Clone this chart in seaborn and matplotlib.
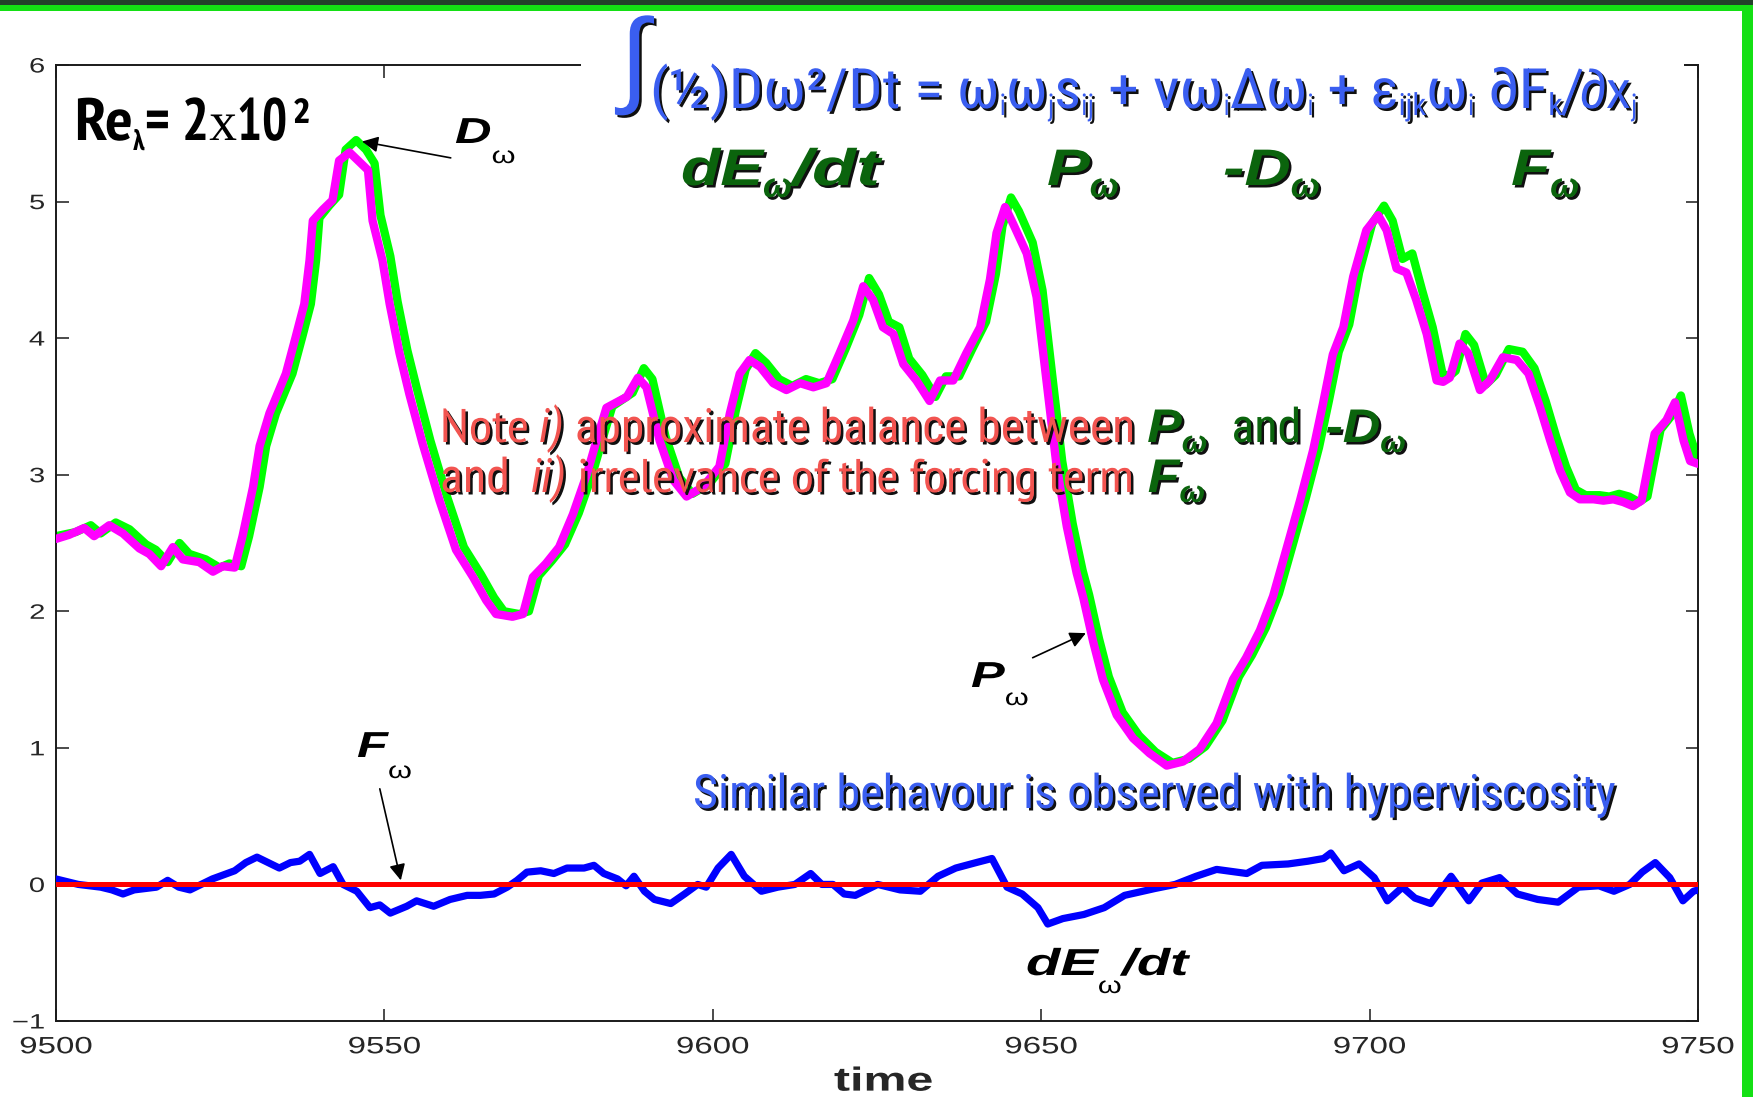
import matplotlib
matplotlib.use("Agg")
import matplotlib.pyplot as plt
import matplotlib.patheffects as pe
from matplotlib import font_manager
from matplotlib.colors import to_rgba
from matplotlib.font_manager import FontProperties
from matplotlib.text import Annotation
from matplotlib.patches import Rectangle
from matplotlib.transforms import Affine2D, Bbox
import seaborn as sns

# ---------------------------------------------------------------- data
# enstrophy production P_omega
prod_t = [9500.0, 9502.0, 9504.3, 9505.8, 9508.1, 9510.2, 9512.7, 9514.2, 9516.0, 9517.8,
          9519.3, 9521.8, 9523.9, 9525.4, 9527.2, 9528.4, 9530.0, 9531.0, 9532.5, 9535.0,
          9536.5, 9537.8, 9538.6, 9539.1, 9540.6, 9542.1, 9543.1, 9544.7, 9546.2, 9547.5,
          9548.2, 9549.7, 9550.8, 9552.3, 9553.8, 9555.8, 9558.4, 9560.9, 9563.5, 9565.5,
          9567.0, 9569.5, 9571.1, 9572.6, 9574.6, 9576.6, 9578.7, 9580.8, 9582.3, 9583.8,
          9586.9, 9588.6, 9589.9, 9591.9, 9594.0, 9596.0, 9598.5, 9601.0, 9602.6, 9604.1,
          9605.6, 9607.2, 9609.2, 9611.2, 9613.3, 9615.3, 9617.3, 9619.3, 9621.4, 9622.9,
          9624.4, 9625.9, 9627.5, 9629.0, 9631.0, 9633.0, 9634.6, 9636.6, 9638.6, 9640.7,
          9642.2, 9643.2, 9644.5, 9645.7, 9647.8, 9649.3, 9650.8, 9652.3, 9653.9, 9655.4,
          9656.4, 9657.9, 9659.4, 9661.5, 9664.0, 9666.5, 9669.1, 9671.6, 9674.1, 9676.7,
          9679.2, 9681.2, 9683.3, 9685.3, 9687.3, 9689.4, 9691.4, 9692.9, 9694.4, 9696.0,
          9697.5, 9699.5, 9701.3, 9702.6, 9704.1, 9705.6, 9707.1, 9708.7, 9710.2, 9711.2,
          9712.2, 9713.7, 9715.0, 9716.8, 9718.3, 9720.3, 9722.4, 9724.2, 9725.9, 9727.5,
          9729.0, 9730.5, 9732.0, 9734.1, 9735.6, 9737.1, 9738.6, 9740.1, 9741.4, 9742.4,
          9743.4, 9745.2, 9746.5, 9747.8, 9748.8, 9750.0]
prod_v = [2.53, 2.56, 2.61, 2.55, 2.63, 2.57, 2.46, 2.42, 2.33, 2.47,
          2.38, 2.36, 2.29, 2.33, 2.32, 2.55, 2.91, 3.21, 3.45, 3.74,
          4.01, 4.25, 4.57, 4.86, 4.94, 5.01, 5.30, 5.36, 5.29, 5.23,
          4.86, 4.57, 4.25, 3.89, 3.59, 3.23, 2.81, 2.45, 2.25, 2.08,
          1.98, 1.96, 1.98, 2.25, 2.35, 2.47, 2.71, 3.00, 3.25, 3.49,
          3.57, 3.71, 3.64, 3.25, 2.96, 2.84, 2.91, 3.06, 3.45, 3.74,
          3.84, 3.79, 3.67, 3.62, 3.67, 3.64, 3.67, 3.89, 4.13, 4.38,
          4.28, 4.08, 4.03, 3.81, 3.69, 3.54, 3.69, 3.69, 3.89, 4.08,
          4.43, 4.77, 4.96, 4.84, 4.62, 4.30, 3.69, 3.08, 2.62, 2.28,
          2.10, 1.78, 1.50, 1.24, 1.07, 0.96, 0.87, 0.90, 0.99, 1.18,
          1.50, 1.66, 1.86, 2.11, 2.45, 2.81, 3.18, 3.52, 3.88, 4.08,
          4.45, 4.79, 4.90, 4.79, 4.51, 4.48, 4.28, 4.03, 3.69, 3.68,
          3.71, 3.96, 3.89, 3.62, 3.69, 3.86, 3.84, 3.74, 3.50, 3.25,
          3.03, 2.87, 2.82, 2.82, 2.81, 2.82, 2.80, 2.77, 2.81, 3.06,
          3.30, 3.40, 3.53, 3.25, 3.10, 3.08]

# enstrophy dissipation D_omega
diss_t = [9500.0, 9503.0, 9505.3, 9506.8, 9509.1, 9511.2, 9513.7, 9515.2, 9517.0, 9518.8,
          9520.3, 9522.8, 9524.9, 9526.4, 9528.2, 9529.4, 9531.0, 9532.0, 9533.5, 9536.0,
          9537.5, 9538.8, 9539.6, 9540.1, 9541.6, 9543.1, 9544.1, 9545.7, 9547.2, 9548.5,
          9549.4, 9550.9, 9552.0, 9553.5, 9555.0, 9557.0, 9559.6, 9562.1, 9564.7, 9566.7,
          9568.2, 9570.5, 9572.0, 9573.5, 9575.5, 9577.5, 9579.6, 9581.7, 9583.2, 9584.7,
          9587.8, 9589.5, 9590.8, 9592.8, 9594.9, 9596.9, 9599.4, 9601.9, 9603.5, 9605.0,
          9606.5, 9608.1, 9610.1, 9612.1, 9614.2, 9616.2, 9618.2, 9620.2, 9622.3, 9623.8,
          9625.3, 9626.8, 9628.4, 9629.9, 9631.9, 9633.9, 9635.5, 9637.5, 9639.5, 9641.6,
          9643.1, 9644.1, 9645.4, 9646.6, 9648.7, 9650.2, 9651.7, 9653.2, 9654.8, 9656.3,
          9657.3, 9658.8, 9660.3, 9662.4, 9664.9, 9667.4, 9670.0, 9672.5, 9675.0, 9677.6,
          9680.1, 9682.1, 9684.2, 9686.2, 9688.2, 9690.3, 9692.3, 9693.8, 9695.3, 9696.9,
          9698.4, 9700.4, 9702.2, 9703.5, 9705.0, 9706.5, 9708.0, 9709.6, 9711.1, 9712.1,
          9713.1, 9714.6, 9715.9, 9717.7, 9719.2, 9721.2, 9723.3, 9725.1, 9726.8, 9728.4,
          9729.9, 9731.4, 9732.9, 9735.0, 9736.5, 9738.0, 9739.5, 9741.0, 9742.3, 9743.3,
          9744.3, 9746.1, 9747.4, 9748.7, 9749.7, 9750.0]
diss_v = [2.55, 2.58, 2.63, 2.57, 2.65, 2.60, 2.49, 2.45, 2.36, 2.50,
          2.42, 2.38, 2.32, 2.35, 2.33, 2.55, 2.91, 3.21, 3.45, 3.74,
          4.01, 4.25, 4.57, 4.88, 4.97, 5.05, 5.38, 5.45, 5.38, 5.28,
          4.90, 4.60, 4.27, 3.91, 3.62, 3.25, 2.83, 2.47, 2.27, 2.10,
          2.00, 1.98, 2.00, 2.26, 2.37, 2.49, 2.72, 3.01, 3.26, 3.50,
          3.60, 3.78, 3.70, 3.28, 2.98, 2.86, 2.93, 3.08, 3.47, 3.77,
          3.89, 3.82, 3.70, 3.65, 3.70, 3.67, 3.70, 3.92, 4.17, 4.44,
          4.32, 4.12, 4.08, 3.85, 3.73, 3.57, 3.72, 3.72, 3.92, 4.12,
          4.47, 4.82, 5.03, 4.93, 4.70, 4.35, 3.72, 3.10, 2.64, 2.30,
          2.12, 1.80, 1.52, 1.26, 1.09, 0.97, 0.89, 0.92, 1.01, 1.20,
          1.52, 1.68, 1.88, 2.13, 2.47, 2.83, 3.20, 3.54, 3.90, 4.10,
          4.48, 4.84, 4.97, 4.86, 4.58, 4.62, 4.35, 4.08, 3.74, 3.72,
          3.76, 4.03, 3.95, 3.66, 3.73, 3.92, 3.90, 3.78, 3.54, 3.28,
          3.06, 2.89, 2.85, 2.85, 2.84, 2.86, 2.84, 2.80, 2.84, 3.09,
          3.33, 3.44, 3.58, 3.30, 3.15, 3.12]

# rate of change of enstrophy dE_omega/dt
dedt_t = [9500.0, 9501.7, 9503.4, 9506.8, 9508.5, 9510.2, 9511.9, 9515.3, 9517.0, 9518.7,
          9520.4, 9522.1, 9523.8, 9525.5, 9527.2, 9528.9, 9530.6, 9532.3, 9534.0, 9535.7,
          9537.1, 9538.6, 9540.2, 9542.2, 9543.7, 9545.8, 9547.8, 9549.3, 9550.9, 9553.4,
          9554.9, 9557.5, 9560.0, 9562.6, 9564.6, 9566.7, 9568.7, 9570.2, 9571.7, 9573.8,
          9575.8, 9577.8, 9580.4, 9581.9, 9583.4, 9585.5, 9586.8, 9588.0, 9589.6, 9591.1,
          9593.6, 9595.7, 9597.7, 9599.0, 9600.8, 9602.8, 9604.8, 9607.4, 9609.9, 9612.5,
          9614.9, 9616.6, 9618.3, 9620.0, 9621.7, 9623.4, 9625.1, 9626.8, 9628.5, 9631.6,
          9634.3, 9637.0, 9640.1, 9642.5, 9644.8, 9647.1, 9649.5, 9651.0, 9653.3, 9656.5,
          9659.6, 9662.7, 9667.3, 9670.4, 9673.6, 9676.7, 9681.3, 9683.6, 9687.6, 9690.6,
          9693.0, 9694.1, 9696.1, 9698.4, 9700.7, 9702.7, 9705.0, 9706.9, 9709.3, 9712.4,
          9715.1, 9717.1, 9719.8, 9722.5, 9725.6, 9728.7, 9731.8, 9734.9, 9737.2, 9739.6,
          9741.5, 9743.5, 9745.7, 9747.7, 9749.3, 9750.0]
dedt_v = [0.04, 0.02, 0.00, -0.02, -0.04, -0.07, -0.04, -0.02, 0.03, -0.02,
          -0.04, 0.00, 0.04, 0.07, 0.10, 0.16, 0.20, 0.16, 0.12, 0.16,
          0.17, 0.22, 0.08, 0.13, 0.00, -0.05, -0.17, -0.15, -0.21, -0.16,
          -0.12, -0.16, -0.11, -0.08, -0.08, -0.07, -0.02, 0.03, 0.09, 0.10,
          0.08, 0.12, 0.12, 0.14, 0.08, 0.04, -0.01, 0.06, -0.05, -0.11,
          -0.14, -0.07, 0.00, -0.02, 0.12, 0.22, 0.06, -0.05, -0.02, 0.00,
          0.08, 0.00, 0.00, -0.07, -0.08, -0.04, 0.00, -0.02, -0.04, -0.05,
          0.06, 0.12, 0.16, 0.19, -0.02, -0.07, -0.17, -0.29, -0.25, -0.22,
          -0.17, -0.08, -0.03, 0.00, 0.06, 0.11, 0.08, 0.14, 0.15, 0.17,
          0.19, 0.23, 0.10, 0.15, 0.05, -0.12, -0.02, -0.10, -0.14, 0.06,
          -0.12, 0.01, 0.05, -0.07, -0.11, -0.13, -0.02, -0.01, -0.05, 0.00,
          0.09, 0.16, 0.05, -0.12, -0.05, -0.04]

# forcing contribution F_omega
forc_t = [9500.0, 9750.0]
forc_v = [0.0, 0.0]

x_ticks = [9500, 9550, 9600, 9650, 9700, 9750]
y_ticks = [-1, 0, 1, 2, 3, 4, 5, 6]

# ---------------------------------------------------------------- style
W, H = 1753, 1097
sns.set_style("white")
plt.rcParams["font.family"] = ["Liberation Sans", "DejaVu Sans"]
plt.rcParams["axes.unicode_minus"] = True
SANS = ["Liberation Sans", "DejaVu Sans"]
SERIF = ["Liberation Serif", "DejaVu Serif"]
_installed = {f.name for f in font_manager.fontManager.ttflist}
# condensed faces with italics, and the wider set usable for upright runs
NARROW_ITALIC = [[n, "Liberation Sans", "DejaVu Sans"]
                 for n in ("Roboto Condensed", "Fira Sans Condensed") if n in _installed]
NARROW_UPRIGHT = NARROW_ITALIC + [[n, "Liberation Sans", "DejaVu Sans"]
                                  for n in ("PT Sans Narrow",) if n in _installed]

EQ_BLUE = "#3a5ef0"
DK_GREEN = "#0b640d"
NOTE_RED = "#f25450"
SHADE = (2.5, -2.5, "#101010")


class Squeeze(pe.AbstractPathEffect):
    """Draw text glyphs scaled horizontally (wide lettering),
    optionally with a hard drop shadow underneath."""

    def __init__(self, sx=1.0, anchor="left", shadow=None):
        super().__init__()
        self.sx, self.anchor, self.shadow = sx, anchor, shadow

    def draw_path(self, renderer, gc, tpath, affine, rgbFace=None):
        ext = tpath.get_extents()
        if self.anchor == "center":
            a = 0.5 * (ext.x0 + ext.x1)
        elif self.anchor == "right":
            a = ext.x1
        else:
            a = 0.0
        aff = Affine2D().translate(-a, 0).scale(self.sx, 1.0).translate(a, 0) + affine
        if self.shadow is not None:
            dx, dy, col = self.shadow
            gc0 = renderer.new_gc()
            gc0.copy_properties(gc)
            gc0.set_foreground(col)
            gc0.set_linewidth(0)
            renderer.draw_path(gc0, tpath, aff + Affine2D().translate(dx, dy), to_rgba(col))
            gc0.restore()
        renderer.draw_path(gc, tpath, aff, rgbFace)


class SqueezedText(Annotation):
    """Left-anchored text whose reported extent follows its horizontal scaling."""

    def __init__(self, *args, sx=1.0, shadow=None, **kwargs):
        super().__init__(*args, **kwargs)
        self._sx = sx
        self.set_path_effects([Squeeze(sx, "left", shadow)])

    def get_window_extent(self, renderer=None):
        bb = super().get_window_extent(renderer)
        return Bbox.from_extents(bb.x0, bb.y0, bb.x0 + self._sx * bb.width, bb.y1)


fig = plt.figure(figsize=(W / 100, H / 100), dpi=100, facecolor="white")
ax = fig.add_axes([56 / W, 1 - 1021 / H, (1698 - 56) / W, (1021 - 65) / H])
_renderer = fig.canvas.get_renderer()


def text_width(txt, size, fam, style, weight):
    fp = FontProperties(family=fam, style=style, weight=weight, size=size)
    return _renderer.get_text_width_height_descent(txt, fp, ismath=False)[0]


# ---------------------------------------------------------------- curves
sns.lineplot(x=diss_t, y=diss_v, ax=ax, color="#00ff00", linewidth=6.0,
             sort=False, estimator=None, zorder=2)
sns.lineplot(x=prod_t, y=prod_v, ax=ax, color="#ff00ff", linewidth=6.0,
             sort=False, estimator=None, zorder=3)
sns.lineplot(x=dedt_t, y=dedt_v, ax=ax, color="#0000ff", linewidth=5.2,
             sort=False, estimator=None, zorder=3)
sns.lineplot(x=forc_t, y=forc_v, ax=ax, color="#ff0000", linewidth=3.6,
             sort=False, estimator=None, zorder=4)

ax.set_xlim(9500, 9750)
ax.set_ylim(-1, 6)
ax.set_xticks(x_ticks)
ax.set_yticks(y_ticks)
ax.grid(False)
for s in ax.spines.values():
    s.set_visible(True)
    s.set_color("#1a1a1a")
    s.set_linewidth(1.4)
ax.tick_params(which="both", direction="in", length=9, width=1.1, color="#1a1a1a",
               bottom=True, top=True, left=True, right=True,
               labelbottom=True, labelleft=True)
ax.tick_params(axis="x", labelsize=17, pad=11)
ax.tick_params(axis="y", labelsize=15, pad=8)
for lbl in ax.get_xticklabels():
    lbl.set_path_effects([Squeeze(1.4, "center")])
for lbl in ax.get_yticklabels():
    lbl.set_path_effects([Squeeze(1.4, "right")])
ax.set_xlabel("time", fontsize=24, fontweight="bold", labelpad=6)
ax.xaxis.label.set_x(0.504)
ax.xaxis.label.set_path_effects([Squeeze(1.45, "center")])
ax.set_ylabel("")

# arrows pointing at the curves
arrow_kw = dict(arrowstyle="-|>", color="black", lw=1.2, mutation_scale=24,
                shrinkA=0, shrinkB=0)
ax.annotate("", xy=(9546.6, 5.44), xytext=(9560.1, 5.32), arrowprops=arrow_kw, zorder=5)
ax.annotate("", xy=(9656.8, 1.84), xytext=(9648.7, 1.66), arrowprops=arrow_kw, zorder=5)
ax.annotate("", xy=(9552.5, 0.03), xytext=(9549.3, 0.70), arrowprops=arrow_kw, zorder=5)


# ---------------------------------------------------------------- text helpers
def piece(txt, size, color, sx, fam=SANS, style="normal", weight="normal", dx=0, dy=0):
    """A text run; sx is its width relative to the same run set in `fam`.
    Narrow runs are set in a condensed face, widened to the exact width."""
    choices = NARROW_ITALIC if style == "italic" else NARROW_UPRIGHT
    if sx < 1.0 and choices:
        w0 = text_width(txt, size, fam, style, weight)
        best = None
        for cand in choices:
            k = sx * w0 / text_width(txt, size, cand, style, weight)
            if best is None or k > best[1]:
                best = (cand, k)
            if k >= 1.0:
                best = (cand, k)
                break
        fam, sx = best
    return dict(txt=txt, size=size, color=color, sx=sx, fam=fam, style=style,
                weight=weight, dx=dx, dy=dy)


def chain(x, y, pieces, shadow=None, z=8):
    """Lay out text runs left to right on a common baseline (y from the top)."""
    prev = None
    for p in pieces:
        base = H - y - p["dy"]
        if prev is None:
            xy, coords, off = (x + p["dx"], base), "figure pixels", (0, 0)
        else:
            xy, coords, off = (1, base), (prev, "figure pixels"), (p["dx"], 0)
        a = SqueezedText(p["txt"], xy=xy, xycoords=coords, xytext=off,
                         textcoords="offset pixels", ha="left", va="baseline",
                         fontsize=p["size"], color=p["color"], family=p["fam"],
                         style=p["style"], weight=p["weight"], annotation_clip=False,
                         zorder=z, sx=p["sx"], shadow=shadow)
        fig.add_artist(a)
        prev = a
    return prev


# ---------------------------------------------------------------- frame decoration
def rect_px(x0, y0, w, h, color, z):
    fig.add_artist(Rectangle((x0 / W, 1 - (y0 + h) / H), w / W, h / H,
                             transform=fig.transFigure, facecolor=color,
                             edgecolor="none", zorder=z))


rect_px(0, 0, W, 5, "#23412a", 20)
rect_px(0, 5, W, 6, "#14e014", 21)
rect_px(1742, 5, 11, H - 5, "#14e014", 21)
# white panel behind the equation
rect_px(581, 14, 1103, 68, "white", 6)

# ---------------------------------------------------------------- equation
chain(620, 93, [piece("\u222b", 76, EQ_BLUE, 1.0)], shadow=SHADE)
m, s, q = 40, 22, 0.965
chain(650, 108, [
    piece("(\u00bd)D\u03c9\u00b2/Dt = \u03c9", m, EQ_BLUE, q),
    piece("i", s, EQ_BLUE, q, dy=7),
    piece("\u03c9", m, EQ_BLUE, q),
    piece("j", s, EQ_BLUE, q, dy=7),
    piece("s", m, EQ_BLUE, q),
    piece("ij", s, EQ_BLUE, q, dy=7),
    piece(" + \u03bd\u03c9", m, EQ_BLUE, q),
    piece("i", s, EQ_BLUE, q, dy=7),
    piece("\u0394\u03c9", m, EQ_BLUE, q),
    piece("i", s, EQ_BLUE, q, dy=7),
    piece(" + \u03b5", m, EQ_BLUE, q),
    piece("ijk", s, EQ_BLUE, q, dy=7),
    piece("\u03c9", m, EQ_BLUE, q),
    piece("i", s, EQ_BLUE, q, dy=7),
    piece(" \u2202F", m, EQ_BLUE, q),
    piece("k", s, EQ_BLUE, q, dy=7),
    piece("/\u2202x", m, EQ_BLUE, q),
    piece("j", s, EQ_BLUE, q, dy=7),
], shadow=SHADE)

# term names under the equation
g, gs, gq = 37, 25, 1.25
bi = dict(style="italic", weight="bold")
chain(681, 185, [piece("dE", g, DK_GREEN, gq, **bi),
                 piece("\u03c9", gs, DK_GREEN, 1.0, dy=12, **bi),
                 piece("/dt", g, DK_GREEN, 1.4, **bi)], shadow=SHADE)
for gx, gtxt in [(1047, "P"), (1223, "-D"), (1511, "F")]:
    chain(gx, 185, [piece(gtxt, g, DK_GREEN, gq, **bi),
                    piece("\u03c9", gs, DK_GREEN, 1.0, dy=12, **bi)], shadow=SHADE)

# ---------------------------------------------------------------- Reynolds number
rq = 0.76
chain(75, 140, [
    piece("Re", 43, "black", rq, weight="bold"),
    piece("\u03bb", 20, "black", rq, weight="bold", dy=10),
    piece("= 2", 43, "black", rq, weight="bold"),
    piece("x", 40, "black", 1.0, fam=SERIF),
    piece("10", 43, "black", rq, weight="bold"),
    piece("2", 26, "black", rq, weight="bold", dy=-17, dx=7),
])

# ---------------------------------------------------------------- note
n, ns, nq, ngq = 34, 22, 0.89, 1.1
chain(440, 442, [
    piece("Note", n, NOTE_RED, nq),
    piece(" i)", n, NOTE_RED, nq, style="italic"),
    piece(" approximate balance between", n, NOTE_RED, nq),
    piece("P", n, DK_GREEN, ngq, dx=11, **bi),
    piece("\u03c9", ns, DK_GREEN, 1.0, dy=10, **bi),
    piece("and", n, DK_GREEN, nq, dx=24),
    piece("-D", n, DK_GREEN, ngq, dx=24, **bi),
    piece("\u03c9", ns, DK_GREEN, 1.0, dy=10, **bi),
], shadow=SHADE)
chain(440, 492, [
    piece("and", n, NOTE_RED, nq),
    piece("  ii)", n, NOTE_RED, nq, style="italic"),
    piece(" irrelevance of the forcing term", n, NOTE_RED, nq),
    piece("F", n, DK_GREEN, ngq, dx=14, **bi),
    piece("\u03c9", ns, DK_GREEN, 1.0, dy=10, **bi),
], shadow=SHADE)

chain(693, 808, [piece("Similar behavour is observed with hyperviscosity", 34, EQ_BLUE, 0.91)],
      shadow=SHADE)

# ---------------------------------------------------------------- curve labels
lq = 1.4
chain(455, 143, [piece("D", 26, "black", lq, style="italic", weight="bold"),
                 piece("\u03c9", 17, "black", 1.3, dy=20)])
chain(971, 687, [piece("P", 26, "black", lq, style="italic", weight="bold"),
                 piece("\u03c9", 17, "black", 1.3, dy=18)])
chain(357, 757, [piece("F", 26, "black", lq, style="italic", weight="bold"),
                 piece("\u03c9", 17, "black", 1.3, dy=21)])
chain(1026, 975, [piece("dE", 27, "black", 1.5, style="italic", weight="bold"),
                  piece("\u03c9", 17, "black", 1.3, dy=18),
                  piece("/dt", 27, "black", 1.45, style="italic", weight="bold")])

fig.savefig("out.png", dpi=100, facecolor="white")
